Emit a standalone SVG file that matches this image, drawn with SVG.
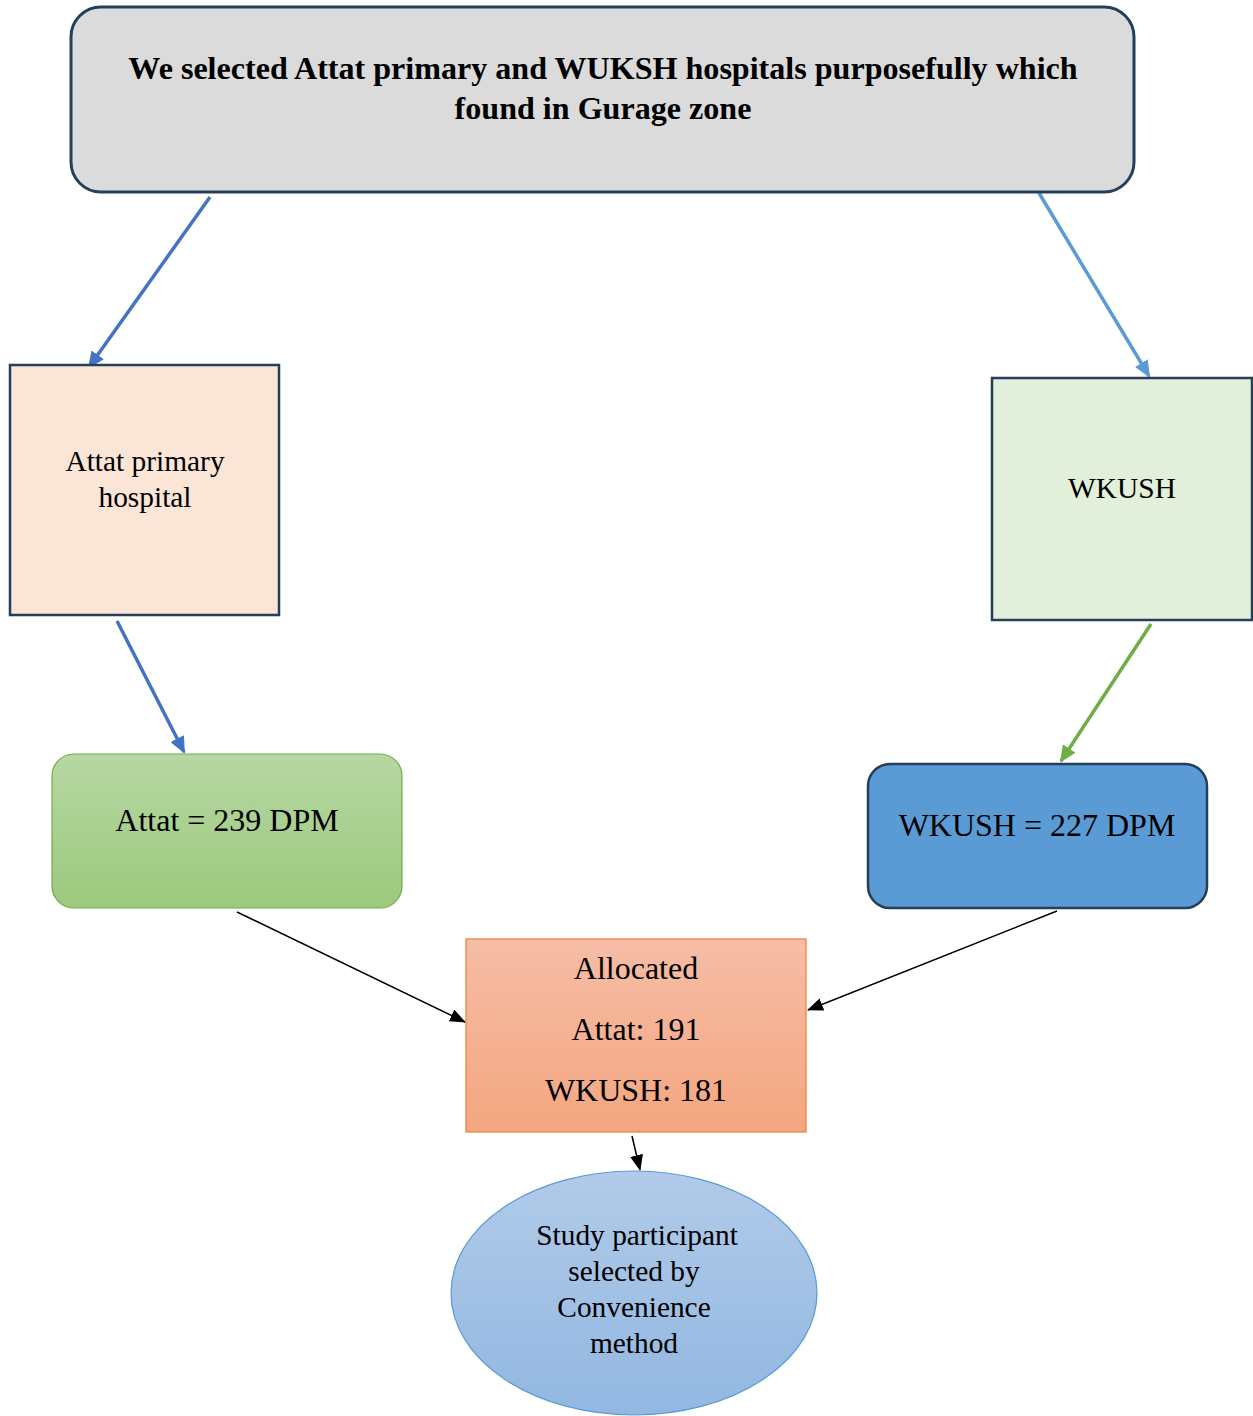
<svg xmlns="http://www.w3.org/2000/svg" width="1253" height="1416" viewBox="0 0 1253 1416">
<style>
text{font-family:"Liberation Serif","Times New Roman",serif;fill:#000;text-anchor:middle}
.t29{font-size:29.4px}
.t31{font-size:32px}
.title{font-size:32.1px;font-weight:bold}
.thick{fill:none;stroke-width:3.5}
.thin{fill:none;stroke:#000;stroke-width:1.5}
</style>
<defs>
<linearGradient id="gGreen" x1="0" y1="0" x2="0" y2="1"><stop offset="0" stop-color="#b7d7a3"/><stop offset="1" stop-color="#9bc97d"/></linearGradient>
<linearGradient id="gOrange" x1="0" y1="0" x2="0" y2="1"><stop offset="0" stop-color="#f6bda6"/><stop offset="1" stop-color="#f4a680"/></linearGradient>
<linearGradient id="gBlue" x1="0" y1="0" x2="0" y2="1"><stop offset="0" stop-color="#b1cbe9"/><stop offset="1" stop-color="#92b7e1"/></linearGradient>
<marker id="aDark" markerUnits="userSpaceOnUse" viewBox="0 0 17 15" refX="15" refY="7.5" markerWidth="17" markerHeight="15" orient="auto"><path d="M0,0 L17,7.5 L0,15 z" fill="#4472c4"/></marker>
<marker id="aLight" markerUnits="userSpaceOnUse" viewBox="0 0 17 15" refX="15" refY="7.5" markerWidth="17" markerHeight="15" orient="auto"><path d="M0,0 L17,7.5 L0,15 z" fill="#5b9bd5"/></marker>
<marker id="aGreen" markerUnits="userSpaceOnUse" viewBox="0 0 17 15" refX="15" refY="7.5" markerWidth="17" markerHeight="15" orient="auto"><path d="M0,0 L17,7.5 L0,15 z" fill="#70ad47"/></marker>
<marker id="aBlack" markerUnits="userSpaceOnUse" viewBox="0 0 16 13" refX="15" refY="6.5" markerWidth="16" markerHeight="13" orient="auto"><path d="M0,0 L16,6.5 L0,13 z" fill="#000"/></marker>
</defs>

<g id="connectors">
<line class="thick" x1="210" y1="197" x2="89" y2="367" stroke="#4472c4" marker-end="url(#aDark)"/>
<line class="thick" x1="1039" y1="193" x2="1149" y2="376" stroke="#5b9bd5" marker-end="url(#aLight)"/>
<line class="thick" x1="117" y1="621" x2="184" y2="752" stroke="#4472c4" marker-end="url(#aDark)"/>
<line class="thick" x1="1151" y1="624" x2="1061" y2="761" stroke="#70ad47" marker-end="url(#aGreen)"/>
<line class="thin" x1="237" y1="912" x2="465" y2="1022" marker-end="url(#aBlack)"/>
<line class="thin" x1="1057" y1="911" x2="808" y2="1010" marker-end="url(#aBlack)"/>
<line class="thin" x1="632" y1="1136" x2="640" y2="1170" marker-end="url(#aBlack)"/>
</g>

<g id="top">
<rect x="71" y="7" width="1063" height="185" rx="30" fill="#dbdbdb" stroke="#243f5a" stroke-width="3"/>
<text class="title" x="603" y="79">We selected Attat primary and WUKSH hospitals purposefully which</text>
<text class="title" x="603" y="119">found in Gurage zone</text>
</g>

<g id="attat-hospital">
<rect x="10" y="365" width="269" height="250" fill="#fbe5d6" stroke="#243f5a" stroke-width="2.5"/>
<text class="t29" x="145" y="471">Attat primary</text>
<text class="t29" x="145" y="507">hospital</text>
</g>

<g id="wkush-hospital">
<rect x="992" y="378" width="260" height="242" fill="#e2efda" stroke="#243f5a" stroke-width="2.5"/>
<text class="t29" x="1122" y="498">WKUSH</text>
</g>

<g id="attat-dpm">
<rect x="52" y="754" width="350" height="154" rx="22" fill="url(#gGreen)" stroke="#70ad47" stroke-width="1.2"/>
<text class="t31" x="227" y="831">Attat = 239 DPM</text>
</g>

<g id="wkush-dpm">
<rect x="868" y="764" width="339" height="144" rx="22" fill="#5b9bd5" stroke="#243f5a" stroke-width="2.5"/>
<text class="t31" x="1037" y="836">WKUSH = 227 DPM</text>
</g>

<g id="allocated">
<rect x="466" y="939" width="340" height="193" fill="url(#gOrange)" stroke="#ed7d31" stroke-width="1.2"/>
<text class="t31" x="636" y="979">Allocated</text>
<text class="t31" x="636" y="1040">Attat: 191</text>
<text class="t31" x="636" y="1101">WKUSH: 181</text>
</g>

<g id="study">
<ellipse cx="634" cy="1293" rx="183" ry="122" fill="url(#gBlue)" stroke="#5b9bd5" stroke-width="1.2"/>
<text class="t29" x="637" y="1245">Study participant</text>
<text class="t29" x="634" y="1281">selected by</text>
<text class="t29" x="634" y="1317">Convenience</text>
<text class="t29" x="634" y="1353">method</text>
</g>
</svg>
